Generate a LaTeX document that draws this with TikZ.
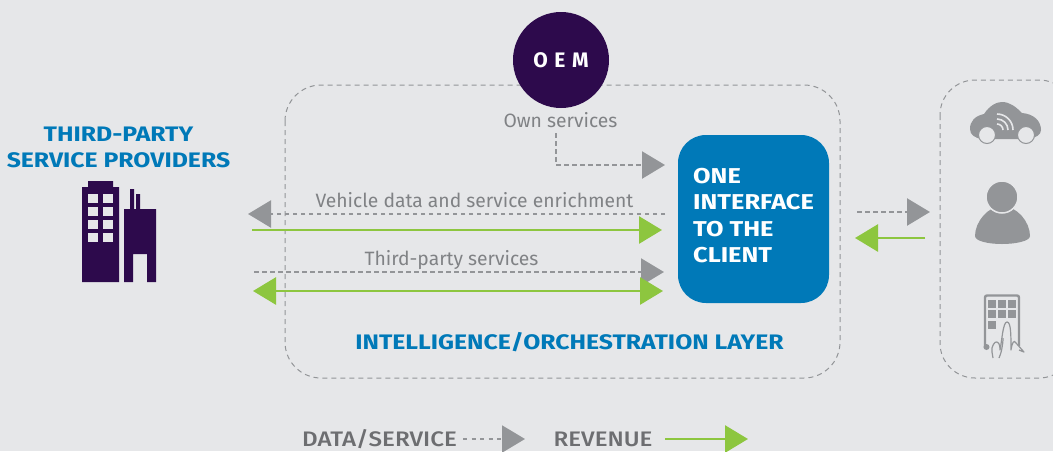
\documentclass[tikz,border=0pt]{standalone}
\usepackage{fontspec}
\setmainfont{Fira Sans}
\newfontfamily\hfont[FakeStretch=1.18]{Fira Sans}
\newfontfamily\lfont[FakeStretch=1.15]{Fira Sans Medium}
\usetikzlibrary{arrows.meta,calc}
\definecolor{bgc}{HTML}{E6E7E9}
\definecolor{purp}{HTML}{2D0A4C}
\definecolor{blu}{HTML}{0079B8}
\definecolor{gry}{HTML}{939598}
\definecolor{txg}{HTML}{808285}
\definecolor{txd}{HTML}{6D6E71}
\definecolor{grn}{HTML}{8DC63F}
\tikzset{
 flow/.style={draw=gry,line width=2.4pt,dash pattern=on 4.5pt off 3.5pt},
 keyflow/.style={draw=gry,line width=2pt,dash pattern=on 4pt off 4.5pt},
 gtip/.tip={Triangle[length=23pt,width=27pt,fill=gry,color=gry]},
 rev/.style={draw=grn,line width=2.8pt},
 ltip/.tip={Triangle[length=23pt,width=27pt,fill=grn,color=grn]},
 zone/.style={draw=gry,line width=1pt,dash pattern=on 5pt off 4pt},
 lbl/.style={inner sep=0pt,text=txg,font=\fontsize{19.3}{19.3}\selectfont},
 head/.style={inner sep=0pt,text=blu,font=\hfont\fontsize{21}{26}\selectfont\bfseries,align=center},
 leg/.style={inner sep=0pt,text=txd,font=\lfont\fontsize{21}{21}\selectfont},
 icon/.style={fill=gry,draw=none},
 bld/.style={fill=purp,draw=none}
}
\begin{document}
\begin{tikzpicture}[x=1pt,y=-1pt]
\path[use as bounding box,fill=bgc] (0,0) rectangle (1053,451);
% zones
\draw[zone,rounded corners=36pt] (285,85) rectangle (840,378);
\draw[zone,rounded corners=35pt] (940,80) rectangle (1074,378);
% OEM
\node[circle,fill=purp,minimum size=96pt,inner sep=0pt,text=white,font=\fontsize{21}{21}\selectfont\bfseries] (oem) at (561,60) {O\hspace{6.5pt}E\hspace{6.5pt}M};
\node[lbl] (own) at (560.5,120) {Own services};
% client box
\node[rectangle,rounded corners=28pt,fill=blu,minimum width=151pt,minimum height=168pt,inner sep=0pt] (client) at (753.5,219) {};
\node[anchor=west,inner sep=0pt,text=white,font=\hfont\fontsize{21.5}{26.5}\selectfont\bfseries,align=left] (cltext) at (693,215.5) {ONE\\INTERFACE\\TO THE\\CLIENT};
\node[head,text=blu] (layer) at (569.5,342.5) {INTELLIGENCE/ORCHESTRATION LAYER};
% providers
\node[head] (prov) at (118.5,147) {THIRD-PARTY\\SERVICE PROVIDERS};
% building
\path[bld] (82,282) -- (82,187) -- (88,187) -- (88,181) -- (113,181) -- (113,187) -- (119,187) -- (119,282) -- cycle;
\foreach \x in {88,103} \foreach \y/\h in {194/9,207/9,220/9,233/9}
  \path[fill=bgc] (\x,\y) rectangle (\x+10,\y+\h);
\path[bld] (124,282) -- (124,209) -- (130,209) -- (130,189) -- (134,189) -- (134,209) -- (136,209) -- (136,194) -- (140,194) -- (140,209) -- (156,209) -- (156,282) -- (147,282) -- (147,254) -- (133,254) -- (133,282) -- cycle;
% connectors
\coordinate (a1) at (665,214); \coordinate (a2) at (248,214);
\coordinate (b1) at (252,230); \coordinate (b2) at (662,230);
\coordinate (c1) at (254,272); \coordinate (c2) at (664,272);
\coordinate (d1) at (253,291); \coordinate (d2) at (663,291);
\coordinate (e1) at (857,212); \coordinate (e2) at (930,212);
\coordinate (f1) at (925,238); \coordinate (f2) at (855,238);
\coordinate (g1) at (556,133); \coordinate (g2) at (665,165);
\draw[flow,-{gtip}] (g1) |- (g2);
\draw[flow,-{gtip}] (a1) -- (a2);
\draw[rev,-{ltip}] (b1) -- (b2);
\draw[flow,-{gtip}] (c1) -- (c2);
\draw[rev,{ltip}-{ltip}] (d1) -- (d2);
\draw[flow,-{gtip}] (e1) -- (e2);
\draw[rev,-{ltip}] (f1) -- (f2);
\node[lbl] (vd) at (474.5,200) {Vehicle data and service enrichment};
\node[lbl] (tp) at (451.5,260.5) {Third-party services};
% car
\path[icon] (970,129) .. controls (970,121) and (975,116) .. (984,114) .. controls (990,105) and (997,102) .. (1002,102) .. controls (1010,102) and (1016,107) .. (1022,113) .. controls (1034,114) and (1041,121) .. (1041,130) .. controls (1041,135) and (1036,137) .. (1030,139) -- (982,139) .. controls (975,138) and (970,135) .. (970,129) -- cycle;
\foreach \x in {987,1026} \path[fill=bgc,draw=gry,line width=1pt] (\x,135) circle (8.5pt);
\foreach \r in {6,11,16} \draw[bgc,line width=1.6pt] (997,130) ++(0,-\r) arc[start angle=-90,end angle=0,radius=\r];
% person
\path[icon] (975,236) .. controls (975,222) and (988,206) .. (1002,206) .. controls (1017,206) and (1030,222) .. (1030,236) .. controls (1030,241) and (1016,244) .. (1002,244) .. controls (988,244) and (975,241) .. (975,236) -- cycle;
\path[fill=gry,draw=bgc,line width=1.5pt] (1002,197) circle (16pt);
% tablet
\draw[gry,line width=2.4pt,rounded corners=2pt] (985,348) -- (985,295.5) -- (1019,295.5) -- (1019,346);
\foreach \x in {988,998,1008} \foreach \y in {300,310} \path[icon] (\x,\y) rectangle (\x+8,\y+8);
\path[icon] (988,321) rectangle (995.5,329);
\path[icon] (986.5,347) circle (3pt);
\path[fill=bgc] (992,358) -- (992,345) -- (1001,335) -- (1004,321) -- (1011,321) -- (1012,338) -- (1022,352) -- (1010,352) -- (1000,358) -- cycle;
\draw[gry,line width=1.2pt,line join=round] (992,352) .. controls (991,346) and (995,341) .. (997,342) .. controls (1000,343) and (1000,348) .. (1000,350) .. controls (1002,340) and (1003,322) .. (1007,322) .. controls (1011,322) and (1011,335) .. (1011,350) .. controls (1012,343) and (1014,339) .. (1016,343) -- (1024,352) -- (1019,350);
\draw[gry,line width=1.2pt] (999,358) .. controls (1001,354) and (1003,345) .. (1003,338);
\draw[gry,line width=1.2pt] (992,352) -- (993,358);
% legend
\node[leg] (ld) at (379.5,439) {DATA/SERVICE};
\node[leg] (lr) at (603,439) {REVENUE};
\coordinate (h1) at (463,439); \coordinate (h2) at (525,439);
\coordinate (i1) at (665,439); \coordinate (i2) at (748,439);
\draw[keyflow,-{gtip}] (h1) -- (h2);
\draw[rev,-{ltip}] (i1) -- (i2);
\end{tikzpicture}
\end{document}
